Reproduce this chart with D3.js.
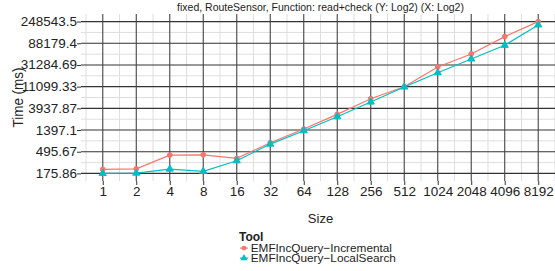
<!DOCTYPE html>
<html><head><meta charset="utf-8">
<script src="https://cdn.jsdelivr.net/npm/d3@7"></script>
<style>body{margin:0;background:#fff}svg{display:block;font-family:"Liberation Sans",Arial,sans-serif}</style>
</head><body>
<svg id="c" width="555" height="271"></svg>
<script>
const sizes = [1,2,4,8,16,32,64,128,256,512,1024,2048,4096,8192];
const incremental = [213,219,422,428,360,760,1463,2957,6240,11075,28400,52900,121000,248543.5];
const localSearch = [175.86,178,216,194,321,714,1351,2636,5323,10918,21600,41650,80100,212000];
const yTicks = [175.86,495.67,1397.1,3937.87,11099.33,31284.69,88179.4,248543.5];
const seriesNames = ["EMFIncQuery\u2212Incremental","EMFIncQuery\u2212LocalSearch"];
const colors = ["#F8766D","#00BFC4"];

const svg = d3.select("#c");
const L=81, R=560, T=14, B=181;
const lx0=Math.log2(1), lx1=Math.log2(8192), ex=(lx1-lx0)*0.05;
const x = d3.scaleLinear().domain([lx0-ex, lx1+ex]).range([L,R]);
const ly0=Math.log2(175.86), ly1=Math.log2(248543.5), ey=(ly1-ly0)*0.05;
const y = d3.scaleLinear().domain([ly0-ey, ly1+ey]).range([B,T]);

function stretchX(sel, sx){
  sel.each(function(){
    const t=d3.select(this); const xx=+t.attr("x")||0;
    t.attr("transform",`translate(${xx},0) scale(${sx},1) translate(${-xx},0)`);
  });
}

const g = svg.append("g");
// minor grid
const ySt = (ly1-ly0)/7;
for(let i=0;i<7;i++){const v=ly0+ySt*(i+0.5);
  g.append("line").attr("x1",L).attr("x2",R).attr("y1",y(v)).attr("y2",y(v)).attr("stroke","#dedede").attr("stroke-width",1);}
for(let i=-1;i<14;i++){const v=i+0.5;
  g.append("line").attr("y1",T).attr("y2",B).attr("x1",x(v)).attr("x2",x(v)).attr("stroke","#dedede").attr("stroke-width",1);}
// major grid
yTicks.forEach(t=>{g.append("line").attr("x1",L).attr("x2",R).attr("y1",y(Math.log2(t))).attr("y2",y(Math.log2(t))).attr("stroke","#333").attr("stroke-width",1.1);});
sizes.forEach(s=>{g.append("line").attr("y1",T).attr("y2",B).attr("x1",x(Math.log2(s))).attr("x2",x(Math.log2(s))).attr("stroke","#444").attr("stroke-width",1.1);});

// axes
const yAxis = d3.axisLeft(y).tickValues(yTicks.map(t=>Math.log2(t))).tickFormat((d,i)=>yTicks[i]).tickSize(4).tickPadding(0);
const ya = svg.append("g").attr("transform",`translate(${L},0)`).call(yAxis);
ya.select(".domain").remove();
ya.selectAll("line").attr("stroke","#333");
ya.selectAll("text").attr("font-size",12.5).attr("fill","#222");
stretchX(ya.selectAll("text"),1.08);
const xAxis = d3.axisBottom(x).tickValues(sizes.map(s=>Math.log2(s))).tickFormat((d,i)=>sizes[i]).tickSize(4).tickPadding(2);
const xa = svg.append("g").attr("transform",`translate(0,${B})`).call(xAxis);
xa.select(".domain").remove();
xa.selectAll("line").attr("stroke","#333");
xa.selectAll("text").attr("font-size",12.5).attr("fill","#222");
stretchX(xa.selectAll("text"),1.08);

// lines
const series=[incremental,localSearch];
series.forEach((vals,k)=>{
  const line=d3.line().x((d,i)=>x(Math.log2(sizes[i]))).y(d=>y(Math.log2(d)));
  svg.append("path").datum(vals).attr("d",line).attr("fill","none").attr("stroke",colors[k]).attr("stroke-width",1.2);
  const sym = k===0? d3.symbol().type(d3.symbolCircle).size(18) : d3.symbol().type(d3.symbolTriangle).size(22);
  svg.selectAll(null).data(vals).enter().append("path").attr("d",sym)
    .attr("transform",(d,i)=>`translate(${x(Math.log2(sizes[i]))},${y(Math.log2(d))})`)
    .attr("fill",colors[k]).attr("stroke",colors[k]);
});

// titles
svg.append("text").attr("x",(L+R)/2).attr("y",11).attr("text-anchor","middle").attr("font-size",10.5).attr("fill","#222").text("fixed, RouteSensor, Function: read+check (Y: Log2) (X: Log2)");
svg.append("text").attr("x",(L+R)/2).attr("y",223).attr("text-anchor","middle").attr("font-size",13).attr("fill","#222").text("Size");
svg.append("text").attr("transform",`translate(22.5,97.5) rotate(-90) scale(1,1.15)`).attr("text-anchor","middle").attr("font-size",13.5).attr("fill","#222").text("Time (ms)");

// legend
svg.append("text").attr("x",239).attr("y",241.3).attr("font-size",12).attr("font-weight","bold").attr("fill","#222").text("Tool");
seriesNames.forEach((n,k)=>{
  const base=252.3+k*10, cy=base-4.2;
  svg.append("line").attr("x1",240).attr("x2",248).attr("y1",cy).attr("y2",cy).attr("stroke",colors[k]).attr("stroke-width",1.2);
  const sym = k===0? d3.symbol().type(d3.symbolCircle).size(18) : d3.symbol().type(d3.symbolTriangle).size(22);
  svg.append("path").attr("d",sym).attr("transform",`translate(244,${cy})`).attr("fill",colors[k]);
  svg.append("text").attr("x",250.7).attr("y",base).attr("font-size",11.8).attr("fill","#222").text(n);
});
</script>
</body></html>
